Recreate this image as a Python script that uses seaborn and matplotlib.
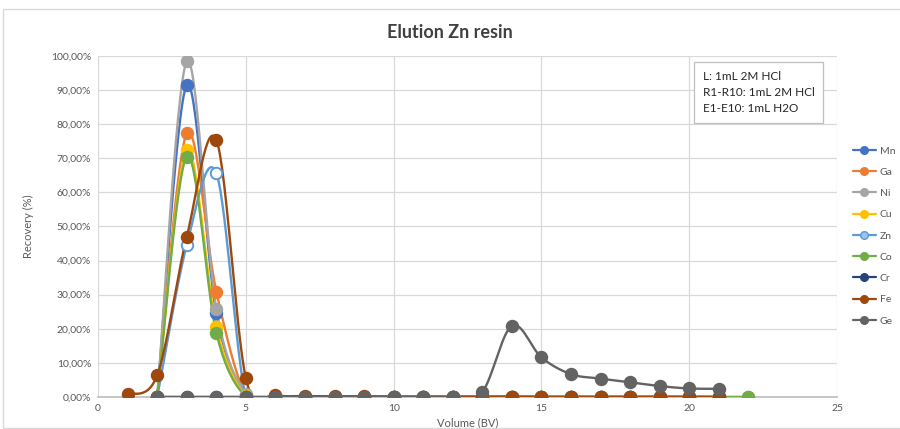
import numpy as np
import pandas as pd
import seaborn as sns
import matplotlib
matplotlib.use("Agg")
import matplotlib.pyplot as plt
from matplotlib.lines import Line2D
from matplotlib.ticker import FuncFormatter, MultipleLocator

# Recovery (%) per elution fraction (bed volumes)
elements = ["Mn", "Ga", "Ni", "Cu", "Zn", "Co", "Cr", "Fe", "Ge"]

mn_x = list(range(2, 22))
mn_y = [0.0, 91.5, 24.5, 0.3] + [0.0] * 16
ga_x = list(range(2, 22))
ga_y = [0.0, 77.3, 30.9, 0.5] + [0.0] * 16
ni_x = list(range(2, 23))
ni_y = [0.0, 98.4, 25.8, 1.0] + [0.0] * 17
cu_x = list(range(2, 22))
cu_y = [0.0, 72.4, 20.6, 0.2] + [0.0] * 16
zn_x = list(range(2, 21))
zn_y = [0.0, 44.6, 65.6, 0.0] + [0.0] * 15
co_x = list(range(2, 23))
co_y = [0.0, 70.5, 18.8, 0.0] + [0.0] * 17
cr_x = list(range(2, 22))
cr_y = [0.0] * 20
fe_x = list(range(1, 22))
fe_y = [0.8, 6.4, 47.0, 75.4, 5.5, 0.7, 0.3, 0.2, 0.2, 0.1, 0.1, 0.1, 0.1,
        0.1, 0.0, 0.0, 0.0, 0.0, 0.0, 0.0, 0.0]
ge_x = list(range(2, 22))
ge_y = [0.0] * 11 + [1.5, 20.9, 11.6, 6.7, 5.4, 4.3, 3.2, 2.5, 2.4]

series_x = [mn_x, ga_x, ni_x, cu_x, zn_x, co_x, cr_x, fe_x, ge_x]
series_y = [mn_y, ga_y, ni_y, cu_y, zn_y, co_y, cr_y, fe_y, ge_y]

colors = ["#4472C4", "#ED7D31", "#A5A5A5", "#FFC000", "#5B9BD5",
          "#70AD47", "#264478", "#9E480E", "#636363"]

box_text = "L: 1mL 2M HCl\nR1-R10: 1mL 2M HCl\nE1-E10: 1mL H2O"


def smooth(xs, ys, n=30):
    """Catmull-Rom style smoothed path through the points."""
    p = np.column_stack([xs, ys]).astype(float)
    ext = np.vstack([p[0], p, p[-1]])
    out = []
    t = np.linspace(0, 1, n, endpoint=False)
    for i in range(1, len(ext) - 2):
        p0, p1, p2, p3 = ext[i - 1], ext[i], ext[i + 1], ext[i + 2]
        c1 = p1 + (p2 - p0) / 6.0
        c2 = p2 - (p3 - p1) / 6.0
        tt = t[:, None]
        seg = ((1 - tt) ** 3) * p1 + 3 * ((1 - tt) ** 2) * tt * c1 \
            + 3 * (1 - tt) * tt ** 2 * c2 + tt ** 3 * p2
        out.append(seg)
    out.append(p[-1][None, :])
    return np.vstack(out)


sns.set_theme(style="white")
plt.rcParams["font.family"] = ["Lato", "DejaVu Sans"]

fig = plt.figure(figsize=(9.0, 4.29), dpi=100)
ax = fig.add_axes([0.109, 0.0746, 0.821, 0.795])

for name, xs, ys, col in zip(elements, series_x, series_y, colors):
    curve = smooth(xs, np.array(ys) / 100.0)
    df = pd.DataFrame({"x": curve[:, 0], "y": curve[:, 1]})
    sns.lineplot(data=df, x="x", y="y", ax=ax, color=col, lw=1.7,
                 sort=False, estimator=None, zorder=3)
    pts = pd.DataFrame({"x": xs, "y": np.array(ys) / 100.0})
    face = "white" if name == "Zn" else col
    sns.scatterplot(data=pts, x="x", y="y", ax=ax, s=68, color=face,
                    edgecolor=col, linewidth=1.4, zorder=4)

ax.set_xlim(0, 25)
ax.set_ylim(0, 1.0)
ax.xaxis.set_major_locator(MultipleLocator(5))
ax.yaxis.set_major_locator(MultipleLocator(0.1))
ax.yaxis.set_major_formatter(
    FuncFormatter(lambda v, _: f"{v * 100:.2f}%".replace(".", ",")))
ax.grid(True, color="#D9D9D9", lw=0.9)
ax.set_axisbelow(True)
for side in ["top", "right", "left"]:
    ax.spines[side].set_visible(False)
ax.spines["bottom"].set_color("#BFBFBF")
ax.tick_params(axis="both", labelsize=7.5, colors="#595959", length=0, pad=5)
ax.set_xlabel("Volume (BV)", fontsize=8, color="#595959", labelpad=3)
ax.set_ylabel("Recovery (%)", fontsize=8, color="#595959", labelpad=12)

fig.text(0.5, 0.925, "Elution Zn resin", ha="center", va="center",
         fontsize=13, fontweight="bold", color="#404040")

ax.text(0.818, 0.955, box_text, transform=ax.transAxes, ha="left", va="top",
        fontsize=8.5, color="#262626", linespacing=1.55,
        bbox=dict(boxstyle="square,pad=0.75", fc="white", ec="#BFBFBF", lw=0.9))

handles = []
for name, col in zip(elements, colors):
    face = "#9DC3E6" if name == "Zn" else col
    handles.append(Line2D([0], [0], color=col, lw=1.6, marker="o",
                          markersize=5.5, markerfacecolor=face,
                          markeredgecolor=col))
leg = fig.legend(handles, elements, loc="center left",
                 bbox_to_anchor=(0.937, 0.45), frameon=False, fontsize=7.5,
                 handlelength=2.2, handletextpad=0.4, labelspacing=1.15)
for t in leg.get_texts():
    t.set_color("#595959")

# chart area border
fig.patches.append(plt.Rectangle((0.003, 0.003), 1.2, 0.975,
                                 transform=fig.transFigure, fill=False,
                                 ec="#D9D9D9", lw=1.0))

fig.savefig("out.png", dpi=100)
